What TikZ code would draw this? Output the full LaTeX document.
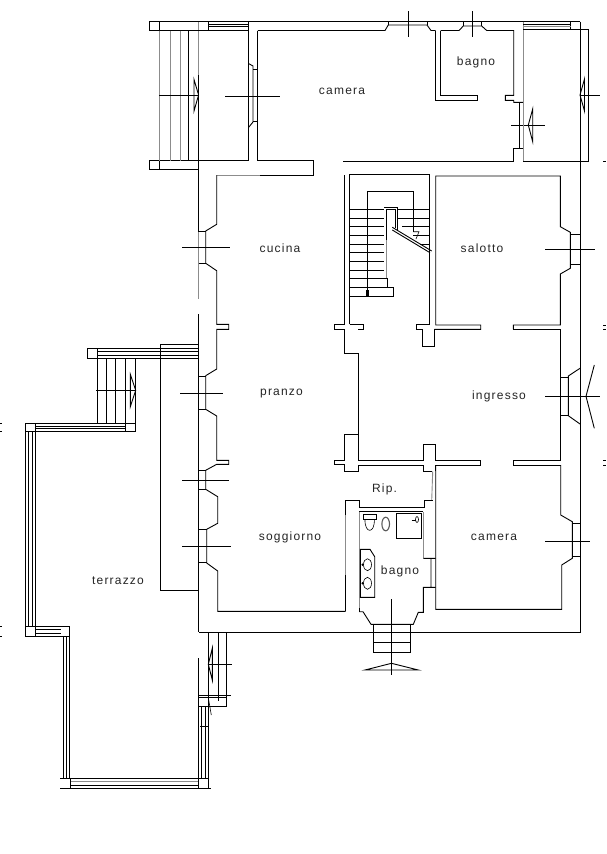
\documentclass[tikz,border=0pt]{standalone}
\usepackage{fontspec}
\newfontfamily\cadfont[LetterSpace=10]{Liberation Sans}
\tikzset{
  wall/.style={draw=black,line width=0.9pt},
  pale/.style={draw=black!45,line width=0.9pt},
  fine/.style={draw=black,line width=0.6pt},
  roomlabel/.style={font=\cadfont\fontsize{12}{12}\selectfont,text=black!85,inner sep=0pt,anchor=center}
}
\begin{document}
\begin{tikzpicture}[x=1pt,y=-1pt]
\useasboundingbox (0,0) rectangle (606,854);
\fill[white] (0,0) rectangle (606,854);
% ---------- outer shell ----------
\draw[wall] (149,21.5) -- (580,21.5);
\draw[wall] (580,21.5) -- (580,632.3) -- (198.6,632.3);
\draw[wall] (198.6,75) -- (198.6,232);
\draw[pale] (198.6,21) -- (198.6,75) (198.6,232) -- (198.6,299);
\draw[wall] (198.6,314) -- (198.6,632.3);
\draw[wall] (580,29) -- (588.3,29);
% ---------- north stair ----------
\draw[wall] (149,21.5) rectangle (208,30.5);
\draw[wall] (149,160.8) rectangle (198.6,169.5);
\draw[wall] (159.3,21.5) -- (159.3,30.5) (159.3,160.8) -- (159.3,169.5);
\draw[pale] (159.3,30.5) -- (159.3,160.8) (170,30.5) -- (170,160.8) (180,30.5) -- (180,160.8);
\draw[wall] (188.6,30.5) -- (188.6,160.8);
\draw[wall] (159,95) -- (198.6,95);
\draw[wall] (194,79.5) -- (198.6,95) -- (194,111) -- cycle;
\draw[wall] (208,24) -- (248.5,24) (208,26.5) -- (248.5,26.5) (208,30.5) -- (248.5,30.5);
% ---------- north camera ----------
\draw[wall] (248.5,21.5) -- (248.5,160.8) -- (198.6,160.8);
\draw[wall] (257.8,122) -- (257.8,160.8) -- (313.5,160.8) -- (313.5,175) -- (216.7,175);
\draw[wall] (257.8,30.5) -- (257.8,122);
\draw[wall] (257.8,30.5) -- (385,30.5) -- (388.3,25) -- (427,25) -- (431,30.5) -- (435.7,30.5);
\draw[wall] (388.3,21.5) -- (388.3,25) (427,21.5) -- (427,25);
\draw[wall] (408.5,11) -- (408.5,36.5);
\draw[wall] (248.5,63.5) -- (253,66) -- (253,122) -- (248.5,127.5);
\draw[wall] (253,69.3) -- (257.8,69.3) (253,121.7) -- (257.8,121.7);
\draw[wall] (225,96.5) -- (280,96.5);
% bagno north
\draw[wall] (435.7,30.5) -- (435.7,100.3) -- (477.7,100.3) -- (477.7,95.3) -- (440.7,95.3) -- (440.7,30.5);
\draw[wall] (440.7,30.5) -- (459,30.5) -- (463.3,26) -- (481.7,26) -- (486.7,30.5) -- (513.7,30.5) -- (513.7,95.3) -- (505.3,95.3) -- (505.3,100.3) -- (513.7,100.3) -- (513.7,102.3) -- (523.3,102.3);
\draw[wall] (463.3,21.5) -- (463.3,26) (481.7,21.5) -- (481.7,26);
\draw[wall] (472.3,11) -- (472.3,36.5);
\draw[wall] (519,102.3) -- (519,148.3);
\draw[wall] (523.3,148.3) -- (513.7,148.3) -- (513.7,161.5) -- (343,161.5);
\draw[wall] (511.3,125) -- (545,125);
\draw[wall] (532.7,109) -- (528.3,125) -- (532.7,141.7) -- cycle;
\draw[pale] (523.4,21.5) -- (523.4,161.5);
% north-east balcony
\draw[wall] (523.4,161.5) -- (588.3,161.5) -- (588.3,29.3) -- (570.7,29.3) -- (570.7,21.5);
\draw[wall] (523.4,24) -- (570.7,24) (523.4,29.3) -- (570.7,29.3);
\draw[pale] (523.4,26.5) -- (570.7,26.5);
\draw[wall] (580,95) -- (600,95);
\draw[wall] (584.5,79) -- (580,95) -- (584.5,111) -- cycle;
% ---------- cucina / pranzo / soggiorno ----------
\draw[pale] (216.7,175) -- (260,175);
\draw[wall] (260,175) -- (313.5,175);
\draw[wall] (216.7,175) -- (216.7,224.3) -- (205.7,231) -- (205.7,263.3) -- (216.7,270.7) -- (216.7,324.3) -- (228.7,324.3) -- (228.7,329.3) -- (216.7,329.3) -- (216.7,369) -- (205.7,375.7) -- (205.7,409.3) -- (216.7,416) -- (216.7,460.3) -- (228.7,460.3) -- (228.7,464.3) -- (216.7,464.3) -- (205.7,470.3) -- (205.7,489.3) -- (217.7,496.7) -- (217.7,523.3) -- (206.7,529.3) -- (206.7,563) -- (217.7,571) -- (217.7,611.3) -- (345.7,611.3);
\draw[wall] (198.6,231.7) -- (205.7,231.7) (198.6,263.3) -- (205.7,263.3) (198.6,376) -- (205.7,376) (198.6,409.3) -- (205.7,409.3) (198.6,470.3) -- (205.7,470.3) (198.6,489.3) -- (205.7,489.3) (198.6,529.3) -- (206.7,529.3) (198.6,562.7) -- (206.7,562.7);
\draw[wall] (182,247.3) -- (230,247.3) (180,393.5) -- (222.7,393.5) (182,480.3) -- (228.7,480.3) (182,546) -- (230.7,546);
% ---------- stairwell ----------
\draw[wall] (344.3,175) -- (344.3,324.3) -- (334.3,324.3) -- (334.3,329.3) -- (344.3,329.3) -- (344.3,353.3) -- (358.3,353.3) -- (358.3,460.7);
\draw[wall] (349.7,324.3) -- (349.7,174.3) -- (429.3,174.3) -- (429.3,324.3) -- (416.3,324.3) -- (416.3,329.3) -- (422.3,329.3) -- (422.3,346.7) -- (434.3,346.7) -- (434.3,329.3);
\draw[wall] (349.7,324.3) -- (363.7,324.3) -- (363.7,329.3) -- (358.3,329.3);
\draw[wall] (367.3,296.7) -- (367.3,191.7) -- (413.3,191.7) -- (413.3,231.7);
\draw[wall] (349.7,209.3) -- (384.3,209.3) (349.7,218.3) -- (384.3,218.3) (349.7,226) -- (384.3,226) (349.7,235.7) -- (384.3,235.7) (349.7,244) -- (384.3,244) (349.7,252.3) -- (384.3,252.3) (349.7,261.7) -- (384.3,261.7) (349.7,270) -- (384.3,270);
\draw[wall] (349.7,278.3) -- (387.3,278.3) -- (387.3,287.3) -- (393.3,287.3) -- (393.3,296.7) -- (349.7,296.7) (349.7,287.3) -- (387.3,287.3);
\draw[wall] (397.7,209.3) -- (429.3,209.3) (397.7,218.3) -- (429.3,218.3) (402,226) -- (429.3,226) (413.3,235.7) -- (429.3,235.7) (420,244) -- (429.3,244);
\draw[wall] (384.3,207.3) -- (397.7,207.3) -- (397.7,230);
\draw[wall] (386.3,209.3) -- (395.7,209.3) -- (395.7,228);
\draw[wall] (386.3,209.3) -- (386.3,240);
\draw[pale] (386.3,240) -- (386.3,278.3);
\draw[wall] (392.3,227.3) -- (431.7,251) (392.3,230) -- (430,252.7);
\draw[fine] (413.3,231.7) -- (419,231.7) -- (416,239);
\fill[black] (366,289.5) rectangle (368.7,296);
% ---------- salotto ----------
\draw[wall] (513.3,329.3) -- (513.3,325) -- (560.3,325) -- (560.3,274) -- (570.3,268.3) -- (570.3,232.3) -- (560.3,226.7) -- (560.3,176) -- (435.7,176) -- (435.7,325) -- (480.7,325) -- (480.7,329.3) -- (434.3,329.3);
\draw[wall] (570.3,234.3) -- (580,234.3) (570.3,264.3) -- (580,264.3);
\draw[wall] (545,249.3) -- (595,249.3);
% ---------- ingresso ----------
\draw[wall] (513.3,329.3) -- (560.3,329.3) -- (560.3,460.7) -- (513.3,460.7) -- (513.3,465) -- (560.7,465);
\draw[wall] (560.3,377.3) -- (568.3,377.3) (560.3,415) -- (568.3,415);
\draw[wall] (580,368.3) -- (568.3,376) -- (568.3,415.7) -- (580,424);
\draw[wall] (545,396.3) -- (600,396.3);
\draw[wall] (586,396.3) -- (594.3,365) (586,396.3) -- (594.3,428.3);
\draw[wall] (344.3,460.5) -- (344.3,434) -- (358.3,434);
\draw[wall] (358.3,460.7) -- (423.3,460.7) -- (423.3,444.3) -- (435.3,444.3) -- (435.3,460.7) -- (480.7,460.7) -- (480.7,465) -- (435.7,465);
\draw[wall] (344.3,460.3) -- (334.3,460.3) -- (334.3,464.6) -- (344.3,464.6) -- (344.3,471.5) -- (358.8,471.5) -- (358.8,465) -- (423.3,465) -- (423.3,471.5) -- (431.7,471.5);
\draw[wall] (435.3,465) -- (435.3,471);
% ---------- Rip. and south bagno ----------
\draw[pale] (432.7,471.5) -- (431.7,500.7);
\draw[wall] (345.3,611.3) -- (345.3,575);
\draw[pale] (345.3,575) -- (345.3,515);
\draw[wall] (345.3,515) -- (345.3,500.7) -- (359,500.7) -- (359,507.3) -- (424,507.3) -- (424,500.7) -- (432.7,500.7);
\draw[wall] (359.3,511.7) -- (422.7,511.7);
\draw[pale] (359.3,511.7) -- (359.3,608);
\draw[pale] (423,511.7) -- (423,558.3);
\draw[wall] (423.3,558.3) -- (435.7,558.3) (431,558.3) -- (431,587.3) (435.7,587.3) -- (423.3,587.3) -- (423.3,612.3) -- (418.3,612.3) -- (413.3,624.3) -- (371,624.3) -- (363,611.7) -- (359.3,611.7);
\draw[wall] (359.3,608) -- (359.3,611.7);
% fixtures
\draw[wall] (396.3,513.3) rectangle (421.7,538.3);
\draw[fine] (411.7,520) -- (415.5,520);
\draw[fine] (417,519.5) ellipse [x radius=1.5,y radius=3];
\draw[wall] (363.3,514.3) rectangle (376.7,519.3);
\draw[fine] (365,519.3) .. controls (364.5,534) and (375,534) .. (374.3,519.3);
\draw[line width=1.1pt,draw=black!65] (385.7,524) ellipse [x radius=3.8,y radius=6.8];
\draw[wall] (360.3,549.3) -- (370,549.3) -- (374.7,556.7) -- (374.7,597.3) -- (360.3,597.3) -- cycle;
\draw[fine] (367.5,564.7) ellipse [x radius=4,y radius=6];
\draw[fine] (367.5,583.3) ellipse [x radius=4,y radius=6];
\fill[black] (362.7,564.7) circle (1.3) (362.7,583.3) circle (1.3);
% south steps
\draw[wall] (373.7,624.3) -- (373.7,652.5) -- (410.7,652.5) -- (410.7,624.3) (373.7,642) -- (410.7,642);
\draw[wall] (391.5,599.3) -- (391.5,675);
\draw[wall] (391.5,663.3) -- (365,670) -- (418.3,670) -- cycle;
% ---------- south camera ----------
\draw[wall] (435.7,465) -- (435.7,609.3) -- (561.7,609.3) -- (561.7,565) -- (572.3,558.3) -- (572.3,521.7) -- (560.7,515) -- (560.7,465);
\draw[wall] (572.3,523.3) -- (580,523.3) (572.3,556.7) -- (580,556.7);
\draw[wall] (545,541) -- (590,541);
% ---------- terrazzo ----------
\draw[wall] (160.7,344.3) -- (198.6,344.3) (160.7,344.3) -- (160.7,590.3) -- (198.6,590.3);
\draw[wall] (87.3,348.3) rectangle (97.3,358.3);
\draw[wall] (97.3,348.3) -- (198.6,348.3) (97.3,351.7) -- (198.6,351.7) (97.3,355) -- (198.6,355) (97.3,358.3) -- (198.6,358.3);
\draw[wall] (97.3,358.3) -- (97.3,423.3) (106.7,358.3) -- (106.7,423.3) (115.7,358.3) -- (115.7,423.3) (125.7,358.3) -- (125.7,423.3) (135.7,358.3) -- (135.7,431.7);
\draw[wall] (96,390.3) -- (135.7,390.3);
\draw[wall] (130.3,374.3) -- (135.7,390.3) -- (130.3,406.7) -- cycle;
\draw[wall] (25,423.3) -- (135.7,423.3) (25,431.7) -- (135.7,431.7) (35.7,426.3) -- (125.7,426.3) (35.7,428.7) -- (125.7,428.7);
\draw[wall] (25,423.3) rectangle (35.7,431.7);
\draw[wall] (125.7,423.3) -- (125.7,431.7);
\draw[wall] (25,431.7) -- (25,636.7) (28.7,431.7) -- (28.7,626) (32,431.7) -- (32,626) (35.7,431.7) -- (35.7,636.7);
\draw[wall] (25,626) -- (69.5,626) -- (69.5,636.7) -- (25,636.7);
\draw[wall] (35.7,629.3) -- (61,629.3) (35.7,633.3) -- (61,633.3);
\draw[wall] (63.3,636.7) -- (63.3,778.3) (66.3,636.7) -- (66.3,778.3) (69.5,636.7) -- (69.5,778.3);
\draw[wall] (60,778.3) -- (208.3,778.3) (60,788.6) -- (211,788.6) (70,785.3) -- (198.3,785.3);
\draw[pale] (70,781.3) -- (198.3,781.3);
\draw[wall] (70,778.3) -- (70,788.6) (198.3,778.3) -- (198.3,788.6) (208.3,778.3) -- (208.3,788.6);
\draw[wall] (198.3,658) -- (198.3,778.3) (201.7,706.7) -- (201.7,778.3) (205,706.7) -- (205,778.3) (208.3,706.7) -- (208.3,778.3);
\draw[wall] (198.3,695.7) -- (230.7,695.7) (198.3,697.7) -- (226.7,697.7) (198.3,706.7) -- (226.7,706.7);
\draw[wall] (208.3,632.3) -- (208.3,706.7) (218,632.3) -- (218,701) (226.7,632.3) -- (226.7,706.7);
\draw[wall] (208.3,664.3) -- (231.7,664.3);
\draw[wall] (212.3,648.3) -- (208.3,664.3) -- (212.3,680) -- cycle;
\draw[fine] (208.3,697.7) -- (211.3,715);
\draw[wall] (200,726) -- (208.3,726);
% edge ticks
\draw[fine] (0,423.3) -- (1.5,423.3) (0,431.7) -- (1.5,431.7) (0,626) -- (1.5,626) (0,636.7) -- (1.5,636.7);
\draw[fine] (603,161.5) -- (606,161.5) (603,325) -- (606,325) (603,329.3) -- (606,329.3) (603,460.7) -- (606,460.7) (603,465) -- (606,465);
% ---------- labels ----------
\node[roomlabel] (lbca) at (342,91) {camera};
\node[roomlabel] (lbba) at (476,62.5) {bagno};
\node[roomlabel] (lbcu) at (280,248.5) {cucina};
\node[roomlabel] (lbsa) at (482,248.5) {salotto};
\node[roomlabel] (lbpr) at (281.5,394) {pranzo};
\node[roomlabel] (lbin) at (499,396.5) {ingresso};
\node[roomlabel] (lbri) at (384.5,489.5) {Rip.};
\node[roomlabel] (lbso) at (290,537) {soggiorno};
\node[roomlabel] (lbcb) at (494,537.5) {camera};
\node[roomlabel] (lbbb) at (400,571) {bagno};
\node[roomlabel] (lbte) at (118,580.5) {terrazzo};
\end{tikzpicture}
\end{document}
